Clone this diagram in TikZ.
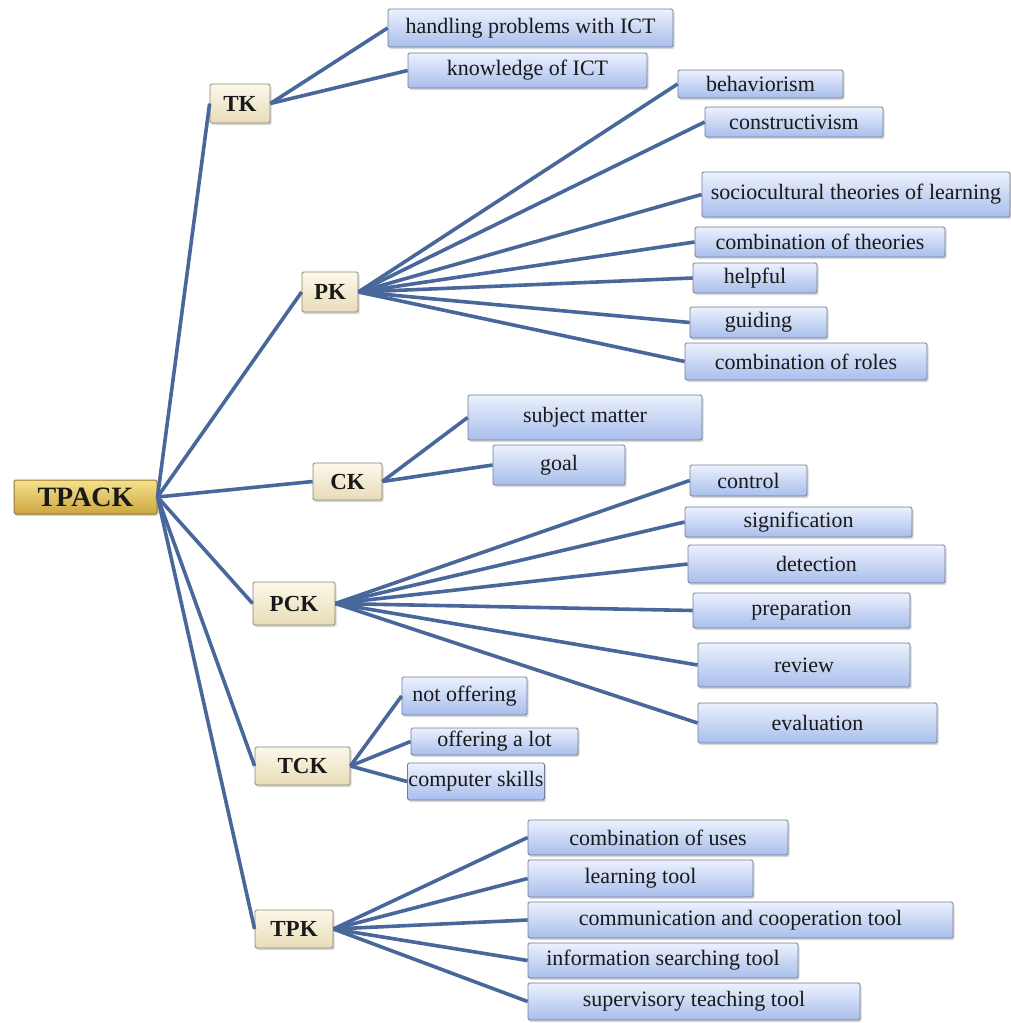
\documentclass[tikz,border=0pt]{standalone}
\usepackage{fontspec}
\setmainfont{Liberation Serif}
\usetikzlibrary{shadows}

\definecolor{linkblue}{RGB}{72,104,156}
\definecolor{leaftop}{RGB}{236,241,253}
\definecolor{leafbot}{RGB}{168,190,236}
\definecolor{leafedge}{RGB}{112,124,150}
\definecolor{cattop}{RGB}{252,248,234}
\definecolor{catbot}{RGB}{232,220,184}
\definecolor{catedge}{RGB}{140,132,112}
\definecolor{roottop}{RGB}{246,226,140}
\definecolor{rootbot}{RGB}{204,166,64}
\definecolor{rootedge}{RGB}{150,118,50}

\tikzset{
  boxshadow/.style={drop shadow={shadow xshift=1.5pt,shadow yshift=-2pt,opacity=0.3}},
  leaf/.style={draw=leafedge,line width=0.8pt,top color=leaftop,bottom color=leafbot,
    rounded corners=1.5pt,inner sep=1pt,boxshadow,text=black!90,
    font=\fontsize{22}{23}\selectfont},
  cat/.style={draw=catedge,line width=0.8pt,top color=cattop,bottom color=catbot,
    rounded corners=1.5pt,inner sep=1pt,boxshadow,text=black!90,
    font=\fontsize{23}{24}\selectfont\bfseries},
  root/.style={draw=rootedge,line width=1pt,top color=roottop,bottom color=rootbot,
    rounded corners=1.5pt,inner sep=1pt,boxshadow,text=black!90,
    font=\fontsize{28}{29}\selectfont\bfseries},
  link/.style={linkblue,line width=3.6pt}
}

\begin{document}
\begin{tikzpicture}[x=1pt,y=-1pt]
    \useasboundingbox (0,0) rectangle (1011,1023);

    % root and the six knowledge domains
    \node[root, minimum width=143pt, minimum height=34pt] (TPACK) at (85.5,497) {TPACK};
    \node[cat, minimum width=60pt, minimum height=39pt] (TK) at (240,103.5) {TK};
    \node[cat, minimum width=56pt, minimum height=40pt] (PK) at (330,292) {PK};
    \node[cat, minimum width=69pt, minimum height=37pt] (CK) at (347.5,481.5) {CK};
    \node[cat, minimum width=82pt, minimum height=43pt] (PCK) at (294,603.5) {PCK};
    \node[cat, minimum width=95pt, minimum height=38pt] (TCK) at (302.5,766) {TCK};
    \node[cat, minimum width=78pt, minimum height=38pt] (TPK) at (294,929) {TPK};

    % TK
    \node[leaf, minimum width=285pt, minimum height=38pt] (hand) at (530.5,28) {handling problems with ICT};
    \node[leaf, minimum width=239pt, minimum height=35pt] (know) at (527.5,70.5) {knowledge of ICT};

    % PK
    \node[leaf, minimum width=165pt, minimum height=28pt] (behav) at (760.5,84) {behaviorism};
    \node[leaf, minimum width=178pt, minimum height=30pt] (constr) at (794,122) {constructivism};
    \node[leaf, minimum width=308pt, minimum height=45pt] (socio) at (856,194.5) {sociocultural theories of learning};
    \node[leaf, minimum width=250pt, minimum height=30pt] (combth) at (820,242) {combination of theories};
    \node[leaf, minimum width=124pt, minimum height=30pt] (helpful) at (755,278) {helpful};
    \node[leaf, minimum width=137pt, minimum height=31pt] (guiding) at (758.5,322.5) {guiding};
    \node[leaf, minimum width=242pt, minimum height=37pt] (combro) at (806,361.5) {combination of roles};

    % CK
    \node[leaf, minimum width=234pt, minimum height=45pt] (subj) at (585,417.5) {subject matter};
    \node[leaf, minimum width=132pt, minimum height=40pt] (goal) at (559,465) {goal};

    % PCK
    \node[leaf, minimum width=117pt, minimum height=31pt] (control) at (748.5,480.5) {control};
    \node[leaf, minimum width=227pt, minimum height=30pt] (signif) at (798.5,522) {signification};
    \node[leaf, minimum width=257pt, minimum height=38pt] (detect) at (816.5,564) {detection};
    \node[leaf, minimum width=217pt, minimum height=35pt] (prep) at (801.5,610.5) {preparation};
    \node[leaf, minimum width=212pt, minimum height=44pt] (review) at (804,665) {review};
    \node[leaf, minimum width=239pt, minimum height=40pt] (eval) at (817.5,723) {evaluation};

    % TCK
    \node[leaf, minimum width=125pt, minimum height=38pt] (notoff) at (464.5,696) {not offering};
    \node[leaf, minimum width=167pt, minimum height=27pt] (offlot) at (494.5,741.5) {offering a lot};
    \node[leaf, minimum width=118pt, minimum height=37pt] (compsk) at (476,781.5) {computer skills};

    % TPK
    \node[leaf, minimum width=260pt, minimum height=35pt] (combuse) at (658,837.5) {combination of uses};
    \node[leaf, minimum width=225pt, minimum height=37pt] (learn) at (640.5,878.5) {learning tool};
    \node[leaf, minimum width=425pt, minimum height=36pt] (commun) at (740.5,920) {communication and cooperation tool};
    \node[leaf, minimum width=270pt, minimum height=35pt] (search) at (663,960.5) {information searching tool};
    \node[leaf, minimum width=332pt, minimum height=37pt] (superv) at (694,1001.5) {supervisory teaching tool};

    \draw (TPACK.east) edge[link] (TK.west);
    \draw (TPACK.east) edge[link] (PK.west);
    \draw (TPACK.east) edge[link] (CK.west);
    \draw (TPACK.east) edge[link] (PCK.west);
    \draw (TPACK.east) edge[link] (TCK.west);
    \draw (TPACK.east) edge[link] (TPK.west);

    \draw (TK.east) edge[link] (hand.west);
    \draw (TK.east) edge[link] (know.west);

    \draw (PK.east) edge[link] (behav.west);
    \draw (PK.east) edge[link] (constr.west);
    \draw (PK.east) edge[link] (socio.west);
    \draw (PK.east) edge[link] (combth.west);
    \draw (PK.east) edge[link] (helpful.west);
    \draw (PK.east) edge[link] (guiding.west);
    \draw (PK.east) edge[link] (combro.west);

    \draw (CK.east) edge[link] (subj.west);
    \draw (CK.east) edge[link] (goal.west);

    \draw (PCK.east) edge[link] (control.west);
    \draw (PCK.east) edge[link] (signif.west);
    \draw (PCK.east) edge[link] (detect.west);
    \draw (PCK.east) edge[link] (prep.west);
    \draw (PCK.east) edge[link] (review.west);
    \draw (PCK.east) edge[link] (eval.west);

    \draw (TCK.east) edge[link] (notoff.west);
    \draw (TCK.east) edge[link] (offlot.west);
    \draw (TCK.east) edge[link] (compsk.west);

    \draw (TPK.east) edge[link] (combuse.west);
    \draw (TPK.east) edge[link] (learn.west);
    \draw (TPK.east) edge[link] (commun.west);
    \draw (TPK.east) edge[link] (search.west);
    \draw (TPK.east) edge[link] (superv.west);
\end{tikzpicture}
\end{document}
